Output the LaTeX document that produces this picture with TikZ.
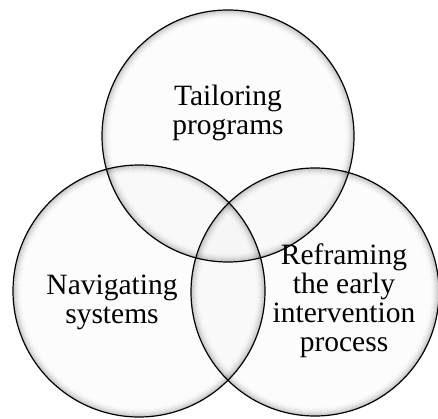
\documentclass[tikz,border=0pt]{standalone}
\usepackage{fontspec}
\setmainfont{Liberation Serif}
\tikzset{
  vennfill/.style={fill=black, fill opacity=0.012},
  vennline/.style={draw=black, line width=1.2pt},
  venntext/.style={align=center, inner sep=0pt, font=\fontsize{29.5}{29}\selectfont}
}
\newcommand\myvennring[2]{%
  \foreach \k in {0,...,8}{%
    \pgfmathsetmacro\op{0.2*(1-\k/9)*(1-\k/9)}%
    \draw[black, draw opacity=\op, line width=1.05pt] (#1) circle[radius=#2-0.6-\k];
  }%
}
\begin{document}
\begin{tikzpicture}[x=1pt,y=-1pt]
\useasboundingbox (0,0) rectangle (438,419);
\coordinate (ctop) at (228,136);
\coordinate (cleft) at (139,291);
\coordinate (cright) at (315,292);
\path[vennfill] (ctop) circle[radius=126];
\path[vennfill] (cleft) circle[radius=126];
\path[vennfill] (cright) circle[radius=124];
\myvennring{ctop}{126}
\myvennring{cleft}{126}
\myvennring{cright}{124}
\draw[vennline] (ctop) circle[radius=126];
\draw[vennline] (cleft) circle[radius=126];
\draw[vennline] (cright) circle[radius=124];
\node[venntext] (ttop) at (228,113) {Tailoring\\programs};
\node[venntext] (tleft) at (112,302.5) {Navigating\\systems};
\node[venntext] (tright) at (344,301) {Reframing\\the early\\intervention\\process};
\end{tikzpicture}
\end{document}
